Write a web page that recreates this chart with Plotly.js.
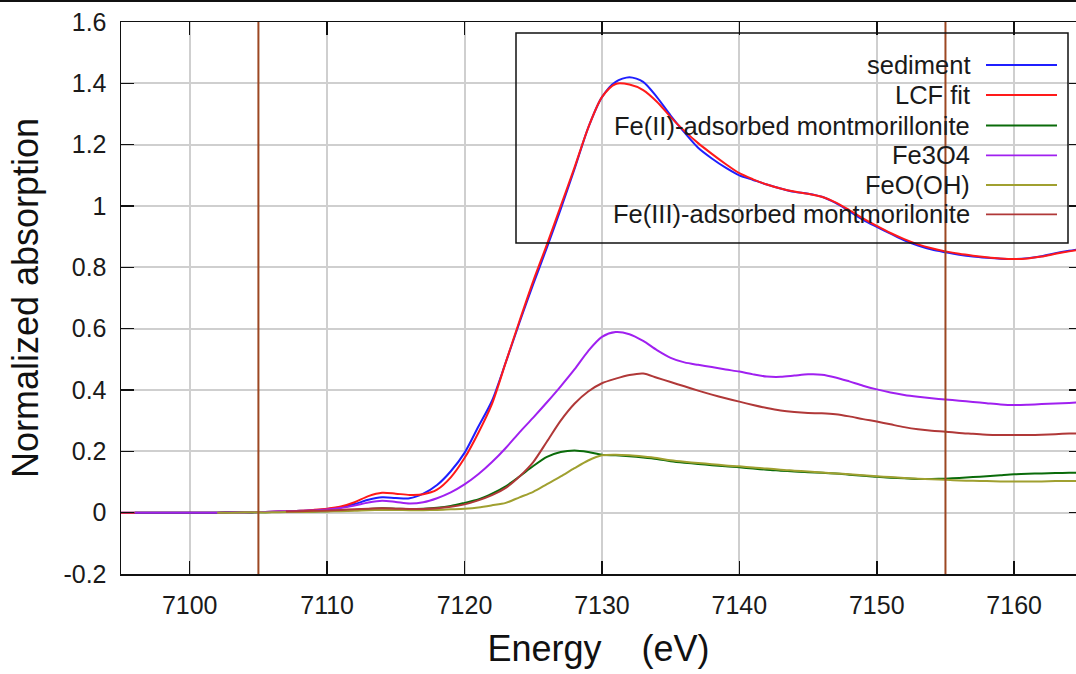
<!DOCTYPE html>
<html>
<head>
<meta charset="utf-8">
<script src="https://cdn.plot.ly/plotly-3.0.1.min.js"></script>
<style>html,body{margin:0;padding:0;background:#fff;}#chart{width:1076px;height:674px;}</style>
</head>
<body>
<div id="chart"></div>
<script>
// Energy grid (eV)
const energy = [7095,7096,7097,7098,7099,7100,7101,7102,7103,7104,
  7105,7106,7107,7108,7109,7110,7111,7112,7113,7114,
  7115,7116,7117,7118,7119,7120,7121,7122,7123,7124,
  7125,7126,7127,7128,7129,7130,7131,7132,7133,7134,
  7135,7136,7137,7138,7139,7140,7141,7142,7143,7144,
  7145,7146,7147,7148,7149,7150,7151,7152,7153,7154,
  7155,7156,7157,7158,7159,7160,7161,7162,7163,7164,7165];

const sediment = [0,0,0,0,0,0,0,0,0.001,0.001,
  0.002,0.003,0.004,0.006,0.008,0.012,0.018,0.028,0.042,0.05,
  0.048,0.047,0.062,0.09,0.135,0.195,0.28,0.365,0.49,0.62,
  0.745,0.865,0.99,1.12,1.255,1.355,1.405,1.42,1.405,1.355,
  1.295,1.24,1.19,1.155,1.125,1.1,1.085,1.07,1.057,1.046,
  1.04,1.03,1.01,0.983,0.955,0.932,0.91,0.888,0.871,0.858,
  0.849,0.841,0.835,0.831,0.828,0.827,0.83,0.836,0.846,0.854,0.861];

const lcfFit = [0,0,0,0,0,0,0,0,0.001,0.001,
  0.002,0.003,0.004,0.006,0.009,0.013,0.02,0.034,0.054,0.065,
  0.062,0.058,0.06,0.075,0.115,0.178,0.26,0.355,0.49,0.625,
  0.755,0.875,1.0,1.125,1.255,1.355,1.398,1.396,1.378,1.34,
  1.29,1.245,1.205,1.17,1.137,1.107,1.087,1.07,1.057,1.047,
  1.04,1.03,1.012,0.987,0.96,0.935,0.912,0.892,0.875,0.862,
  0.852,0.844,0.838,0.833,0.829,0.827,0.829,0.835,0.844,0.852,0.86];

const fe2Mont = [null,0,0,0,0,0,0,0,0.001,0.001,
  0.001,0.002,0.002,0.003,0.004,0.005,0.007,0.009,0.012,0.014,
  0.013,0.012,0.013,0.016,0.022,0.032,0.043,0.062,0.086,0.118,
  0.152,0.182,0.198,0.203,0.198,0.189,0.187,0.184,0.18,0.175,
  0.168,0.163,0.159,0.155,0.151,0.148,0.144,0.14,0.137,0.134,
  0.132,0.13,0.128,0.124,0.12,0.117,0.114,0.112,0.11,0.11,
  0.111,0.113,0.116,0.119,0.122,0.125,0.127,0.128,0.129,0.13,0.131];

const fe3o4 = [null,0,0,0,0,0,0,0,0.001,0.001,
  0.002,0.003,0.004,0.005,0.007,0.01,0.015,0.023,0.033,0.039,
  0.035,0.03,0.034,0.047,0.066,0.092,0.125,0.165,0.211,0.262,
  0.31,0.36,0.412,0.467,0.527,0.573,0.589,0.582,0.56,0.53,
  0.505,0.49,0.482,0.475,0.467,0.46,0.451,0.444,0.443,0.447,
  0.451,0.45,0.441,0.428,0.414,0.402,0.392,0.384,0.378,0.373,
  0.369,0.365,0.361,0.357,0.353,0.351,0.352,0.354,0.356,0.358,0.36];

const feooh = [null,null,null,null,null,null,null,0,0,0.001,
  0.001,0.001,0.002,0.002,0.003,0.004,0.005,0.006,0.008,0.009,
  0.009,0.008,0.008,0.009,0.011,0.013,0.017,0.024,0.032,0.05,
  0.068,0.093,0.118,0.145,0.17,0.187,0.189,0.187,0.183,0.178,
  0.171,0.166,0.162,0.158,0.154,0.151,0.147,0.144,0.14,0.137,
  0.134,0.131,0.128,0.125,0.122,0.119,0.116,0.113,0.111,0.109,
  0.107,0.105,0.104,0.103,0.102,0.102,0.102,0.102,0.103,0.103,0.103];

const fe3Mont = [null,null,null,null,null,null,null,null,null,null,
  null,null,0.004,0.005,0.006,0.007,0.009,0.011,0.013,0.014,
  0.013,0.012,0.012,0.014,0.019,0.027,0.04,0.057,0.081,0.118,
  0.165,0.232,0.3,0.355,0.395,0.422,0.437,0.449,0.454,0.44,
  0.426,0.412,0.398,0.385,0.373,0.362,0.351,0.341,0.333,0.328,
  0.325,0.324,0.321,0.314,0.305,0.297,0.288,0.279,0.272,0.267,
  0.264,0.26,0.257,0.254,0.253,0.253,0.253,0.254,0.256,0.258,0.259];

const seriesNames = ["sediment","LCF fit","Fe(II)-adsorbed montmorillonite","Fe3O4","FeO(OH)","Fe(III)-adsorbed montmorilonite"];
const seriesData = [sediment, lcfFit, fe2Mont, fe3o4, feooh, fe3Mont];
const seriesColors = ["#1f1fff","#ff1a1a","#0a6b0a","#a020f0","#a0a030","#b03838"];

const markerEnergies = [7105, 7155];

const yTickVals = [-0.2,0,0.2,0.4,0.6,0.8,1,1.2,1.4,1.6];
const yTickText = ["-0.2","0","0.2","0.4","0.6","0.8","1","1.2","1.4","1.6"];
const xTickVals = [7100,7110,7120,7130,7140,7150,7160];
const xTickText = ["7100","7110","7120","7130","7140","7150","7160"];

const FONT = "Liberation Sans, Arial, Helvetica, sans-serif";

const traces = seriesData.map((ys, i) => ({
  x: energy, y: ys, type: "scatter", mode: "lines", name: seriesNames[i],
  line: {color: seriesColors[i], width: 2, shape: "spline", smoothing: 0.8},
  connectgaps: false, showlegend: false, hoverinfo: "skip"
}));

// plot area in pixels for legend placement helpers
const L = 121, T = 22, W = 1076 - 121, H = 674 - 22 - 100;
const px = v => (v - L) / W;
const py = v => (T + H - v) / H;

const shapes = [];
// top border line of image
shapes.push({type:"line", xref:"paper", yref:"paper", x0: px(0), x1: 1, y0: py(1), y1: py(1), line:{color:"#111", width:2}});
// vertical marker lines
markerEnergies.forEach(e => shapes.push({type:"line", xref:"x", yref:"paper", x0:e, x1:e, y0:0, y1:1, line:{color:"#9c4722", width:2}, layer:"above"}));
// legend box
shapes.push({type:"rect", xref:"paper", yref:"paper", x0:px(516), x1:px(1068), y0:py(243), y1:py(33), line:{color:"#111", width:1.5}, fillcolor:"rgba(0,0,0,0)", layer:"above"});

const annotations = [];
const rowY = [65, 95, 125.5, 155.3, 185, 214.3];
seriesNames.forEach((n, i) => {
  annotations.push({xref:"paper", yref:"paper", x:px(972), y:py(rowY[i]), xanchor:"right", yanchor:"middle",
    text:n, showarrow:false, font:{family:FONT, size:25.5, color:"#1a1a1a"}});
  shapes.push({type:"line", xref:"paper", yref:"paper", x0:px(986), x1:px(1057), y0:py(rowY[i]), y1:py(rowY[i]),
    line:{color:seriesColors[i], width:1.8}, layer:"above"});
});

const layout = {
  width: 1076, height: 674,
  margin: {l: L, r: 0, t: T, b: 100, pad: 0},
  paper_bgcolor: "#fff", plot_bgcolor: "#fff",
  font: {family: FONT, size: 25, color: "#1a1a1a"},
  showlegend: false,
  xaxis: {
    range: [7095, 7164.5], tickvals: xTickVals, ticktext: xTickText,
    showgrid: true, gridcolor: "#cfcfcf", gridwidth: 2, zeroline: false,
    showline: true, linecolor: "#111", linewidth: 1.5, mirror: "ticks",
    ticks: "inside", ticklen: 13, tickwidth: 1.5, tickcolor: "#111",
    ticklabelstandoff: 8,
    tickfont: {family: FONT, size: 25, color: "#1a1a1a"},
    title: {text: "Energy\u00a0\u00a0\u00a0\u00a0(eV)", font: {family: FONT, size: 36, color: "#111"}, standoff: 18},
    automargin: false
  },
  yaxis: {
    range: [-0.2, 1.6], tickvals: yTickVals, ticktext: yTickText,
    showgrid: true, gridcolor: "#cfcfcf", gridwidth: 2, zeroline: false,
    showline: true, linecolor: "#111", linewidth: 1.5, mirror: false,
    ticks: "inside", ticklen: 13, tickwidth: 1.5, tickcolor: "#111",
    ticklabelstandoff: 8,
    tickfont: {family: FONT, size: 25, color: "#1a1a1a"},
    title: {text: "Normalized absorption", font: {family: FONT, size: 36, color: "#111"}, standoff: 14},
    automargin: false
  },
  yaxis2: {
    range: [-0.2, 1.6], tickvals: yTickVals, overlaying: "y", side: "right",
    showgrid: false, zeroline: false, showline: false, showticklabels: false,
    ticks: "inside", ticklen: 7, tickwidth: 1.5, tickcolor: "#111"
  },
  shapes: shapes,
  annotations: annotations
};

// invisible trace to activate the right-side tick axis
traces.push({x:[7100], y:[0], yaxis:"y2", mode:"markers", marker:{opacity:0}, showlegend:false, hoverinfo:"skip"});

Plotly.newPlot("chart", traces, layout, {staticPlot: true, displayModeBar: false});
</script>
</body>
</html>
